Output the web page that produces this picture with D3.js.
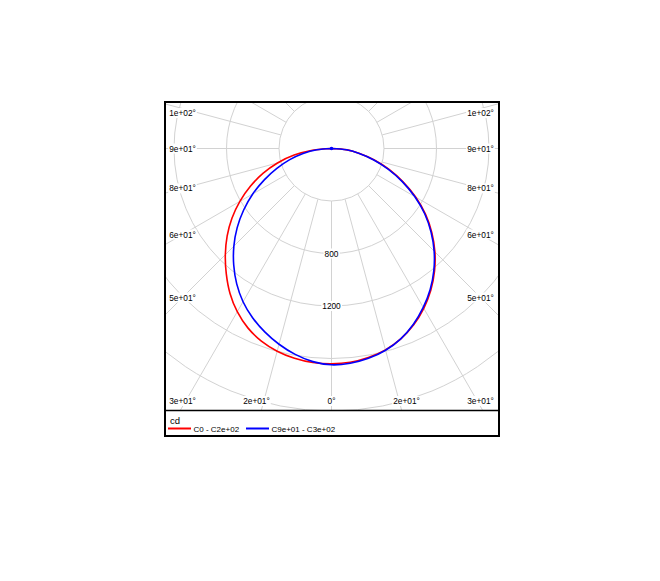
<!DOCTYPE html>
<html>
<head>
<meta charset="utf-8">
<script src="https://cdn.jsdelivr.net/npm/d3@7"></script>
<style>
  html, body { margin: 0; padding: 0; background: #fff; }
  text { font-family: "Liberation Sans", Arial, sans-serif; }
</style>
</head>
<body>
<svg id="chart" width="660" height="581"></svg>
<script>
// ---- data ----
const gammaAngles = [0,5,10,15,20,25,30,35,40,45,50,55,60,65,70,75,80,85,90];
// C0 - C180 plane (red): right side = C0, left side = C180
const redRight = [1640,1635,1617,1588,1543,1482,1406,1319,1221,1114,998,875,740,601,467,338,217,120,0];
const redLeft  = [1640,1637,1623,1599,1562,1508,1436,1348,1247,1144,1038,926,806,682,556,426,289,146,0];
// C90 - C270 plane (blue): right side = C90, left side = C270
const blueRight = [1648,1642,1623,1591,1543,1477,1398,1311,1213,1106,990,867,732,593,459,330,210,115,0];
const blueLeft  = [1648,1630,1593,1544,1487,1423,1348,1259,1159,1052,938,817,693,565,443,329,220,112,0];
const seriesNames = ["C0 - C2e+02", "C9e+01 - C3e+02"];
const seriesColors = ["#ff0000", "#0000ff"];
const unitLabel = "cd";
const ringValues = [400,800,1200,1600,2000,2400];
const ringLabelValues = [800,1200];
const ringLabels = ["800","1200"];
const angleTicks = [0,15,30,45,60,75,90,105];
const angleLabels = ["0°","2e+01°","3e+01°","5e+01°","6e+01°","8e+01°","9e+01°","1e+02°"];

// ---- layout ----
const svg = d3.select("#chart");
const box = {x: 165, y: 102, w: 334, h: 308};
const legendH = 26;
const cx = 331.5, cy = 148.5;
const r = d3.scaleLinear().domain([0, 400]).range([0, 52.5]);

svg.append("rect").attr("width", 660).attr("height", 581).attr("fill", "#fff");

svg.append("defs").append("clipPath").attr("id", "plotClip")
  .append("rect").attr("x", box.x).attr("y", box.y).attr("width", box.w).attr("height", box.h);

const plot = svg.append("g").attr("clip-path", "url(#plotClip)");
const g = plot.append("g").attr("transform", `translate(${cx},${cy})`);

const gridColor = "#d2d2d2";
// rings
g.selectAll("circle.ring").data(ringValues).join("circle")
  .attr("class", "ring").attr("r", d => r(d))
  .attr("fill", "none").attr("stroke", gridColor).attr("stroke-width", 1);

// radial lines every 15 degrees (0 = straight down)
const spokes = d3.range(0, 360, 15);
g.selectAll("line.spoke").data(spokes).join("line")
  .attr("class", "spoke")
  .attr("x1", d => r(400) * Math.sin(d * Math.PI / 180))
  .attr("y1", d => r(400) * Math.cos(d * Math.PI / 180))
  .attr("x2", d => r(3200) * Math.sin(d * Math.PI / 180))
  .attr("y2", d => r(3200) * Math.cos(d * Math.PI / 180))
  .attr("stroke", gridColor).attr("stroke-width", 1);

// curves
function buildPoints(left, right) {
  const pts = [];
  for (let i = gammaAngles.length - 1; i >= 0; i--) pts.push({a: Math.PI + gammaAngles[i] * Math.PI / 180, v: left[i]});
  for (let i = 1; i < gammaAngles.length; i++) pts.push({a: Math.PI - gammaAngles[i] * Math.PI / 180, v: right[i]});
  return pts;
}
const radial = d3.lineRadial().angle(d => d.a).radius(d => r(d.v)).curve(d3.curveCatmullRom);
const series = [buildPoints(redLeft, redRight), buildPoints(blueLeft, blueRight)];
series.forEach((pts, i) => {
  g.append("path").attr("d", radial(pts))
    .attr("fill", "none").attr("stroke", seriesColors[i]).attr("stroke-width", 1.6);
});
g.append("circle").attr("r", 1.8).attr("fill", seriesColors[1]);

// labels with white background
function labelWithBg(parent, x, y, txt) {
  const gg = parent.append("g");
  const t = gg.append("text").attr("x", x).attr("y", y)
    .attr("text-anchor", "middle").attr("dominant-baseline", "central")
    .attr("font-size", 8.3).attr("fill", "#000").text(txt);
  const bb = t.node().getBBox();
  gg.insert("rect", "text").attr("x", bb.x - 1).attr("y", bb.y).attr("width", bb.width + 2).attr("height", bb.height)
    .attr("fill", "#fff");
}

// ring labels along 0 deg direction
ringLabelValues.forEach((v, i) => labelWithBg(g, 0, r(v), ringLabels[i]));

// angle labels placed along the rays, kept inside the frame
const sideInset = 149, bottomReach = 280;
const labelLayer = svg.append("g");
angleTicks.forEach((a, i) => {
  [-1, 1].forEach(s => {
    const ux = s * Math.sin(a * Math.PI / 180), uy = Math.cos(a * Math.PI / 180);
    let t = Infinity;
    if (Math.abs(ux) > 1e-9) t = Math.min(t, sideInset / Math.abs(ux));
    if (uy > 1e-9) t = Math.min(t, bottomReach / uy);
    let x = cx + t * ux, y = cy + t * uy;
    y = Math.max(box.y + 11, Math.min(box.y + box.h - 9, y));
    labelWithBg(labelLayer, x, y, angleLabels[i]);
  });
});

// frame
svg.append("rect").attr("x", box.x).attr("y", box.y).attr("width", box.w).attr("height", box.h + legendH)
  .attr("fill", "none").attr("stroke", "#000").attr("stroke-width", 2);
svg.append("line").attr("x1", box.x).attr("x2", box.x + box.w)
  .attr("y1", box.y + box.h + 0.5).attr("y2", box.y + box.h + 0.5)
  .attr("stroke", "#000").attr("stroke-width", 1.5);

// legend
const lg = svg.append("g").attr("transform", `translate(${box.x},${box.y + box.h})`);
lg.append("text").attr("x", 5).attr("y", 14).attr("font-size", 9.5).attr("fill", "#000").text(unitLabel);
const legendX = [3, 81];
seriesNames.forEach((name, i) => {
  lg.append("line").attr("x1", legendX[i]).attr("x2", legendX[i] + 23)
    .attr("y1", 18.5).attr("y2", 18.5).attr("stroke", seriesColors[i]).attr("stroke-width", 2);
  lg.append("text").attr("x", legendX[i] + 25.5).attr("y", 21.5).attr("font-size", 8)
    .attr("fill", "#000").text(name);
});
</script>
</body>
</html>
